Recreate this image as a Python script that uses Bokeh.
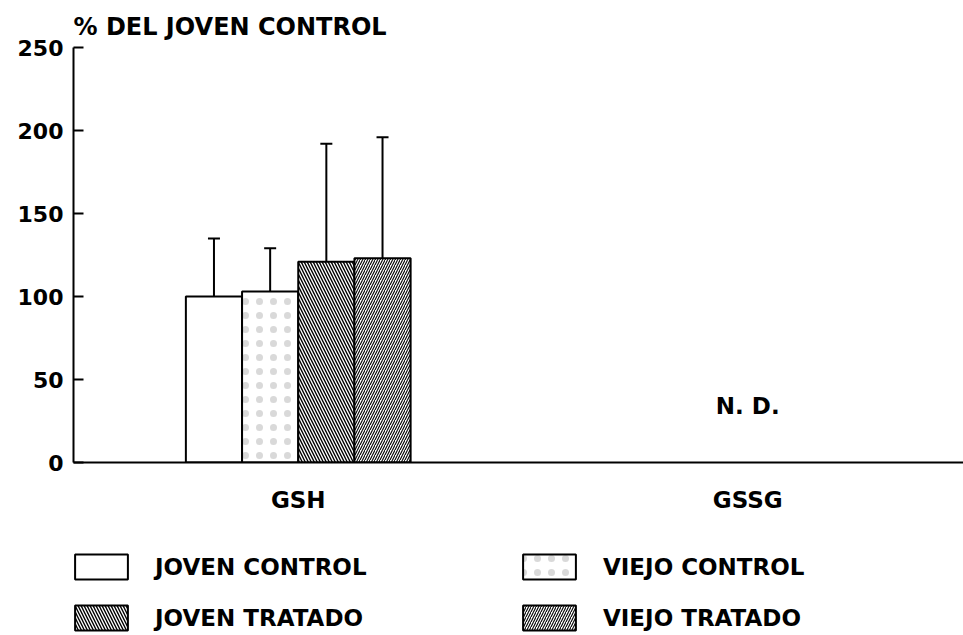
from bokeh.plotting import figure
from bokeh.layouts import column
from bokeh.models import (Range1d, FixedTicker, Whisker, TeeHead, Legend, LegendItem,
                          Label, ColumnDataSource)
from bokeh.embed import file_html
from bokeh.resources import INLINE

# ---- data ----
categories = ["GSH", "GSSG"]
category_pos = [1, 3]
series = ["JOVEN CONTROL", "VIEJO CONTROL", "JOVEN TRATADO", "VIEJO TRATADO"]
gsh_values = [100, 103, 121, 123]
gsh_upper = [135, 129, 192, 196]   # mean + SD
gssg_note = "N. D."
gssg_note_y = 34
y_ticks = [0, 50, 100, 150, 200, 250]
y_title = "% DEL JOVEN CONTROL"

# ---- styles ----
FONT = "DejaVu Sans"
bar_width = 0.25
offsets = [-0.375, -0.125, 0.125, 0.375]
hatches = [None, ".", "\\", "/"]
hatch_scales = [12, 14, 6, 5]
hatch_alphas = [1.0, 0.15, 1.0, 1.0]
hatch_weights = [1, 1, 1.4, 1.1]


def bar_style(i):
    kw = dict(fill_color="white", line_color="black", line_width=2)
    if hatches[i]:
        kw.update(hatch_pattern=hatches[i], hatch_scale=hatch_scales[i],
                  hatch_color="black", hatch_alpha=hatch_alphas[i],
                  hatch_weight=hatch_weights[i])
    return kw


p = figure(width=963, height=520, x_range=Range1d(0, 3.96), y_range=Range1d(0, 250),
           output_backend="svg", toolbar_location=None,
           min_border_left=73, min_border_right=0, min_border_top=47, min_border_bottom=58)
p.outline_line_color = None
p.grid.visible = False

p.title.text = y_title
p.title.text_font = FONT
p.title.text_font_style = "bold"
p.title.text_font_size = "24px"
p.title.text_color = "black"
p.title.align = "left"
p.title.standoff = 13

xs = []
for i, name in enumerate(series):
    x = category_pos[0] + offsets[i]
    xs.append(x)
    p.vbar(x=[x], top=[gsh_values[i]], width=bar_width, bottom=0, **bar_style(i))

src = ColumnDataSource(dict(x=xs, lower=gsh_values, upper=gsh_upper))
w = Whisker(base="x", lower="lower", upper="upper", source=src,
            upper_head=TeeHead(size=12, line_width=2, line_color="black"),
            lower_head=None, line_width=2, line_color="black")
p.add_layout(w)

p.add_layout(Label(x=category_pos[1], y=gssg_note_y, text=gssg_note, text_align="center",
                   text_baseline="middle", text_font=FONT, text_font_style="bold",
                   text_font_size="23px", text_color="black"))

# axes
p.yaxis.ticker = FixedTicker(ticks=y_ticks)
p.yaxis.major_tick_in = 10
p.yaxis.major_tick_out = 0
p.yaxis.minor_tick_line_color = None
p.yaxis.axis_line_width = 2
p.yaxis.major_tick_line_width = 2
p.yaxis.major_label_text_font = FONT
p.yaxis.major_label_text_font_style = "bold"
p.yaxis.major_label_text_font_size = "22px"
p.yaxis.major_label_text_color = "black"
p.yaxis.major_label_standoff = 10

p.xaxis.ticker = FixedTicker(ticks=category_pos)
p.xaxis.major_label_overrides = {pos: c for pos, c in zip(category_pos, categories)}
p.xaxis.major_tick_line_color = None
p.xaxis.minor_tick_line_color = None
p.xaxis.axis_line_width = 2
p.xaxis.major_label_text_font = FONT
p.xaxis.major_label_text_font_style = "bold"
p.xaxis.major_label_text_font_size = "23px"
p.xaxis.major_label_text_color = "black"
p.xaxis.major_label_standoff = 18

# ---- legend panel (separate figure below the chart) ----
lf = figure(width=963, height=115, x_range=Range1d(0, 1), y_range=Range1d(0, 1),
            output_backend="svg", toolbar_location=None,
            x_axis_type=None, y_axis_type=None,
            min_border_left=0, min_border_right=0, min_border_top=0, min_border_bottom=0)
lf.outline_line_color = None
lf.grid.visible = False

# legend-only renderers (hidden; they only provide the legend swatches)
legend_renderers = []
for i, name in enumerate(series):
    r = lf.vbar(x=[0.5], top=[1], width=0.1, bottom=0, **bar_style(i))
    r.visible = False
    legend_renderers.append(r)


def make_legend(idx, loc):
    lg = Legend(items=[LegendItem(label=series[i], renderers=[legend_renderers[i]], index=0)
                       for i in idx],
                location=loc, orientation="vertical",
                glyph_width=66, glyph_height=31, label_height=25, label_standoff=21,
                spacing=20, padding=0, margin=0,
                border_line_alpha=0, background_fill_alpha=0,
                label_text_font=FONT, label_text_font_style="bold",
                label_text_font_size="23px", label_text_color="black")
    lf.add_layout(lg)


make_legend([0, 2], (-5, 2))
make_legend([1, 3], (443, 2))

layout = column(p, lf, spacing=0)
open("out.html", "w").write(file_html(layout, INLINE))
